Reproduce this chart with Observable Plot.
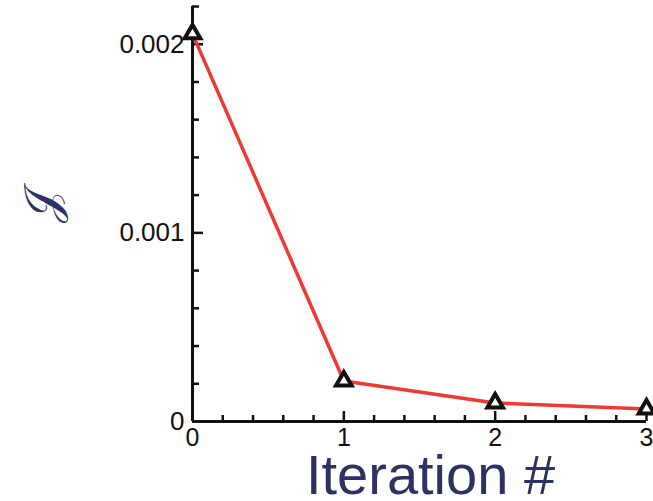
<!DOCTYPE html>
<html>
<head>
<meta charset="utf-8">
<script src="https://cdn.jsdelivr.net/npm/d3@7"></script>
<script src="https://cdn.jsdelivr.net/npm/@observablehq/plot@0.6"></script>
<style>
  html, body { margin: 0; padding: 0; background: #fff; }
  #chart svg { display: block; }
</style>
</head>
<body>
<div id="chart"></div>
<script>
// Data
const iterations = [0, 1, 2, 3];
const costJ = [0.002055, 0.000215, 0.000098, 0.000066];

// Axis ticks
const xMajorTicks = [0, 1, 2, 3];
const xMinorTicks = [0.2,0.4,0.6,0.8,1.2,1.4,1.6,1.8,2.2,2.4,2.6,2.8];
const yMajorTicks = [0, 0.001, 0.002];
const yMinorTicks = [0.0002,0.0004,0.0006,0.0008,0.0012,0.0014,0.0016,0.0018,0.0022];
const yTickLabels = ["0", "0.001", "0.002"];
const xLabel = "Iteration #";
const yLabel = "\u{1D4A5}";

const data = iterations.map((x, i) => ({x, y: costJ[i]}));

const font = "'Liberation Sans', Arial, Helvetica, sans-serif";
const navy = "#2d3163";

const chart = Plot.plot({
  width: 653,
  height: 501,
  marginLeft: 192,
  marginRight: 7,
  marginTop: 6,
  marginBottom: 80,
  style: {fontFamily: font, background: "#fff", color: "#111"},
  x: {domain: [0, 3], axis: null},
  y: {domain: [0, 0.0022], axis: null},
  marks: [
    // minor ticks (inward)
    Plot.axisX(xMinorTicks, {label: null, tickSize: -6, tickFormat: () => "", strokeWidth: 2.5, stroke: "#111"}),
    Plot.axisY(yMinorTicks, {label: null, tickSize: -7, tickFormat: () => "", strokeWidth: 2.5, stroke: "#111"}),
    // major ticks (inward) with labels
    Plot.axisX(xMajorTicks, {label: null, tickSize: -10, tickFormat: () => "", strokeWidth: 2.5, stroke: "#111"}),
    Plot.axisY(yMajorTicks, {label: null, tickSize: -11, tickFormat: () => "", strokeWidth: 2.5, stroke: "#111"}),
    Plot.axisX(xMajorTicks, {label: null, tickSize: 0, tickPadding: 7, fontSize: 25, fill: "#111", tickFormat: d => String(d)}),
    Plot.axisY(yMajorTicks, {label: null, tickSize: 0, tickPadding: 8, fontSize: 26, fill: "#111",
      tickFormat: d => yTickLabels[yMajorTicks.indexOf(d)]}),
    // axis lines
    Plot.ruleY([0], {stroke: "#111", strokeWidth: 3}),
    Plot.ruleX([0], {stroke: "#111", strokeWidth: 3}),
    // data
    Plot.line(data, {x: "x", y: "y", stroke: "#ee3a32", strokeWidth: 3.5}),
    Plot.dot(data, {x: "x", y: "y", symbol: "triangle", r: 5.8, stroke: "#111", strokeWidth: 4, fill: "#fff"}),
    // axis titles
    Plot.text([xLabel], {frameAnchor: "bottom", dx: 11, dy: 72, lineAnchor: "bottom", fontSize: 56, fill: navy, fontFamily: font}),
    Plot.text([yLabel], {frameAnchor: "left", dx: -150, dy: 9, rotate: -90, fontSize: 48, fill: navy,
      fontFamily: "'DejaVu Serif', 'Noto Sans', serif"})
  ]
});
document.getElementById("chart").append(chart);
</script>
</body>
</html>
